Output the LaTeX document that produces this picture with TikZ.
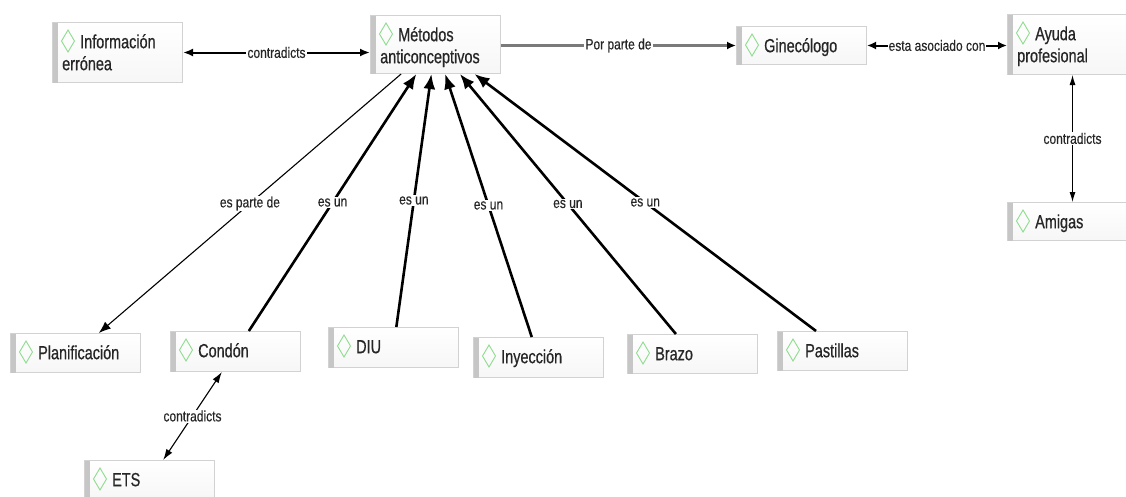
\documentclass[tikz,border=0pt]{standalone}
\usepackage{fontspec}
\setmainfont{Liberation Sans}[FakeStretch=0.78]
\newfontfamily\boxfont{Liberation Sans}[FakeStretch=0.76,FakeBold=0.6]
\newfontfamily\lblfont{Liberation Sans}[FakeStretch=0.8,FakeBold=0.3]
\usetikzlibrary{arrows.meta}
\definecolor{boxborder}{HTML}{D2D2D2}
\definecolor{boxfill}{HTML}{F5F5F5}
\definecolor{stripgray}{HTML}{C6C6C6}
\definecolor{dmdgreen}{HTML}{8EDC8E}
\definecolor{txt}{HTML}{262626}
\definecolor{grayline}{HTML}{7A7A7A}
\newcommand{\mkbox}[5]{%
  \node[cmbox, anchor=north west, minimum height=#4pt] (#1) at (#2,#3) {};
  \fill[stripgray] ([shift={(0.5pt,-0.5pt)}]#1.north west) rectangle ([shift={(6pt,0.5pt)}]#1.south west);
  \draw[dmd] ([shift={(16pt,-8pt)}]#1.north west) -- ++(6.5pt,-11pt) -- ++(-6.5pt,-11pt) -- ++(-6.5pt,11pt) -- cycle;
  \node[cmtext, anchor=north west] (#1-t) at ([shift={(10pt,-8pt)}]#1.north west) {\rule{0pt}{18pt}\hspace{18pt}#5};
}
\begin{document}
\begin{tikzpicture}[x=1pt,y=-1pt,
  cmbox/.style={draw=boxborder, line width=1pt, top color=white, bottom color=boxfill!90!gray!40, minimum width=130pt, inner sep=0pt, outer sep=0.5pt},
  dmd/.style={draw=dmdgreen, line width=0.9pt, line join=miter},
  cmtext/.style={inner sep=0pt, align=left, text=txt, font=\boxfont\fontsize{19}{22}\selectfont},
  lbl/.style={fill=white, inner sep=1pt, text=txt, font=\lblfont\fontsize{15}{17}\selectfont},
  esun/.style={line width=2.6pt, -{Latex[length=15pt,width=12pt]}},
  thinarrow/.style={line width=1.1pt},
]
\useasboundingbox (0,0) rectangle (1126,496);
\fill[white] (0,0) rectangle (1126,496);

\mkbox{info}{52}{22}{60}{Información\\errónea}
\mkbox{metodos}{370}{15}{58}{Métodos\\anticonceptivos}
\mkbox{gine}{736}{26}{38}{Ginecólogo}
\mkbox{ayuda}{1007}{14}{60}{Ayuda\\profesional}
\mkbox{amigas}{1007}{202}{38}{Amigas}
\mkbox{plan}{10}{333}{39}{Planificación}
\mkbox{condon}{170}{331}{40}{Condón}
\mkbox{diu}{328}{327}{40}{DIU}
\mkbox{inyeccion}{473}{337}{40}{Inyección}
\mkbox{brazo}{627}{334}{39}{Brazo}
\mkbox{pastillas}{777}{331}{39}{Pastillas}
\mkbox{ets}{84}{460}{40}{ETS}

% horizontal top connectors
\draw[line width=2pt, {Latex[length=10pt,width=8pt]}-{Latex[length=10pt,width=8pt]}]
  (info.east) -- node[lbl]{contradicts} (info.east -| metodos.west);
\draw[line width=2.4pt, grayline, -{Latex[length=9pt,width=8pt,color=black]}]
  (metodos.east |- gine.west) -- node[lbl]{Por parte de} (gine.west);
\draw[line width=2pt, {Latex[length=9pt,width=8pt]}-{Latex[length=9pt,width=8pt]}]
  (gine.east) -- node[lbl]{esta asociado con} (gine.east -| ayuda.west);
\draw[line width=1pt, {Latex[length=10pt,width=6pt]}-{Latex[length=10pt,width=6pt]}]
  (ayuda.south) -- node[lbl]{contradicts} (amigas.north);

% to Metodos
\draw[thinarrow, -{Latex[length=12pt,width=9pt]}] (metodos) -- node[lbl]{es parte de} (plan);
\draw[esun] (condon) -- node[lbl]{es un} (metodos);
\draw[esun] (diu) -- node[lbl]{es un} (metodos);
\draw[esun] (inyeccion) -- node[lbl]{es un} (metodos);
\draw[esun] (brazo) -- node[lbl]{es un} (metodos);
\draw[esun] (pastillas) -- node[lbl]{es un} (metodos);

% Condon - ETS
\draw[thinarrow, {Latex[length=11pt,width=7pt]}-{Latex[length=11pt,width=7pt]}]
  (condon) -- node[lbl]{contradicts} (ets);
\end{tikzpicture}
\end{document}
